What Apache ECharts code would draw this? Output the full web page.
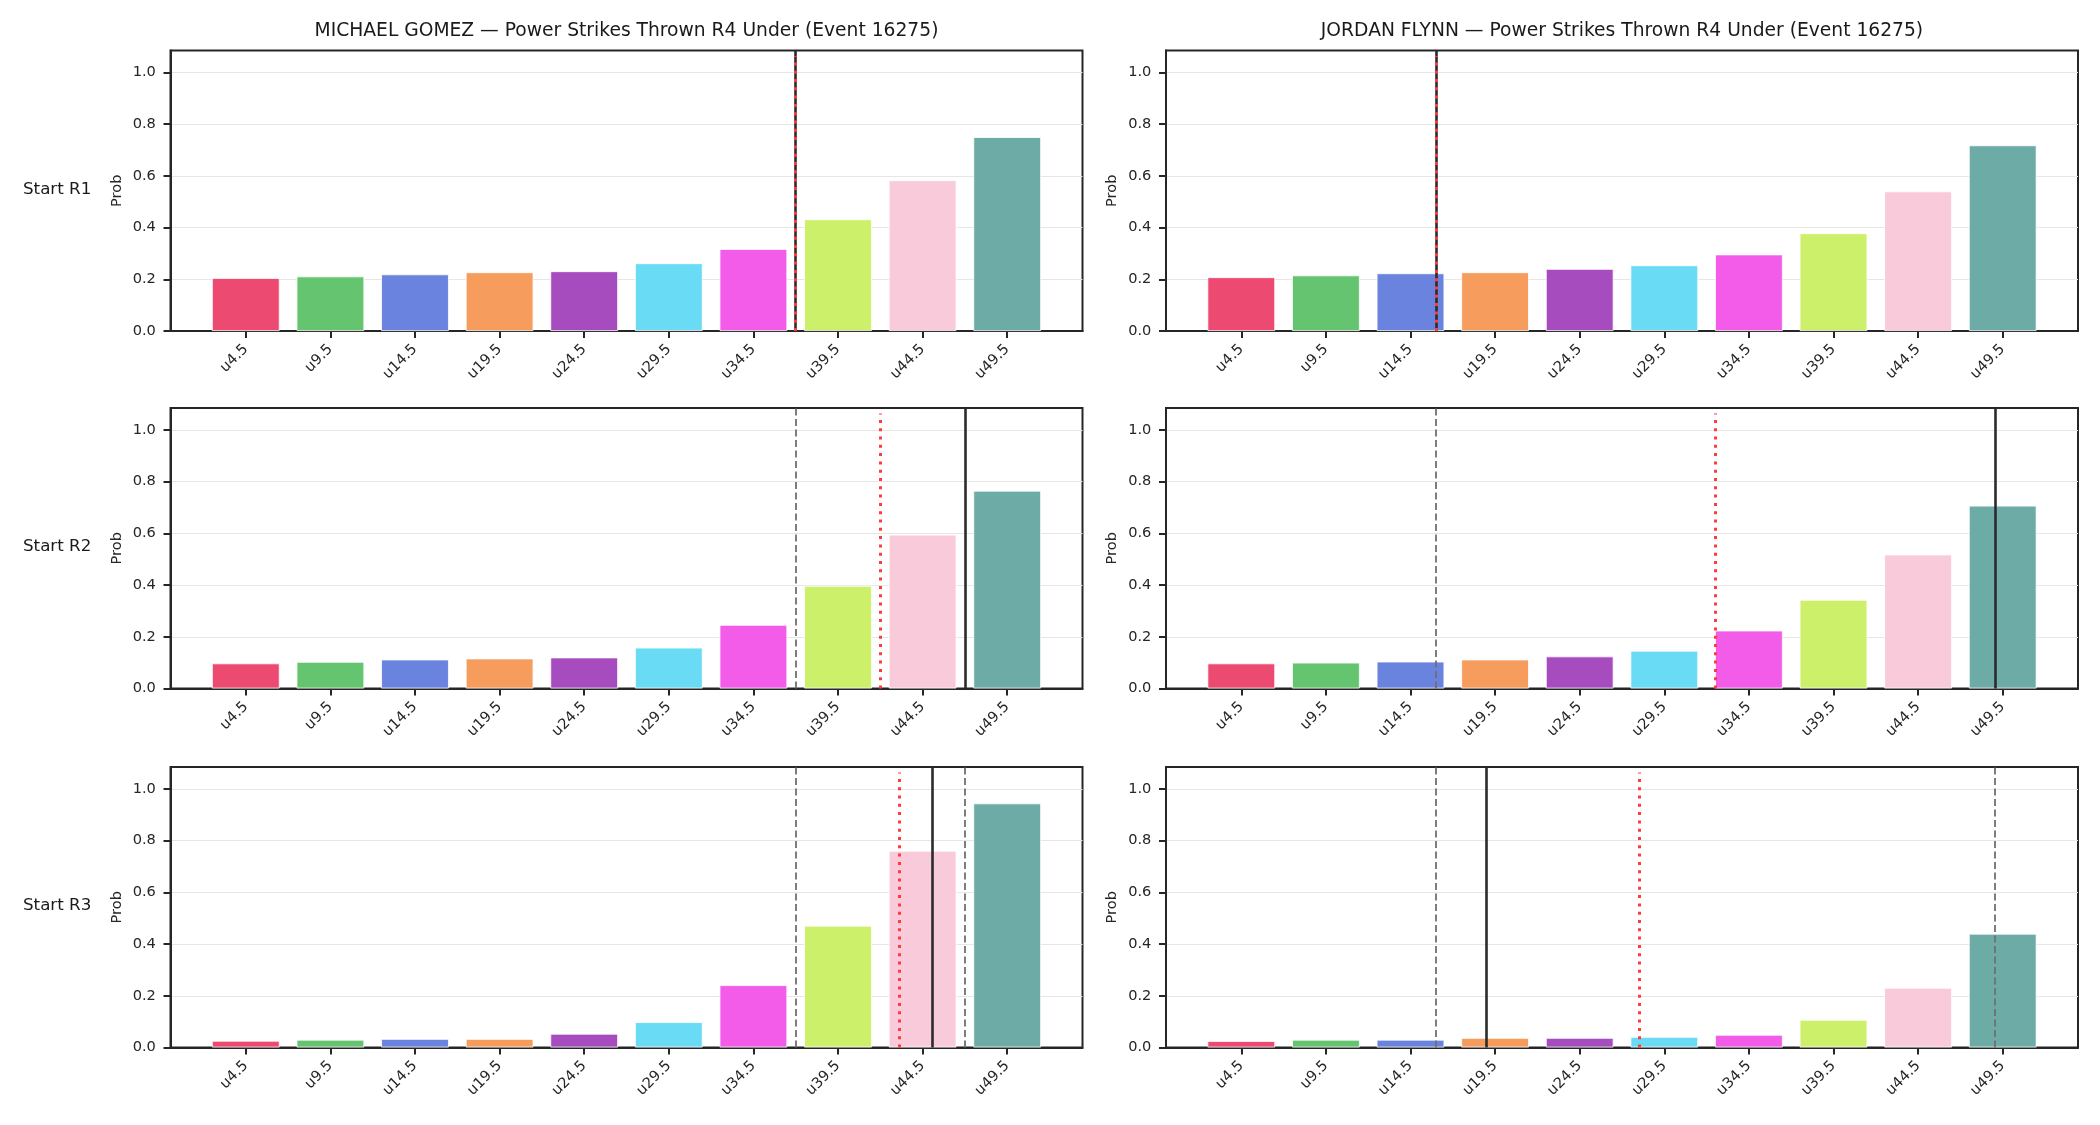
<!DOCTYPE html>
<html>
<head>
<meta charset="utf-8">
<script src="https://cdn.jsdelivr.net/npm/echarts@6/dist/echarts.min.js"></script>
<style>html,body{margin:0;padding:0;background:#fff;}#c{width:2100px;height:1125px;}</style>
</head>
<body>
<div id="c"></div>
<script>
// ---------- data ----------
const categories = ['u4.5','u9.5','u14.5','u19.5','u24.5','u29.5','u34.5','u39.5','u44.5','u49.5'];
const barColors = ['#EC4A70','#65C46F','#6A83DE','#F69C5D','#A64CBF','#69DBF5','#F25CE8','#CDF06A','#F9CAD9','#6DACA6'];
const fighters = ['MICHAEL GOMEZ', 'JORDAN FLYNN'];
const rowLabels = ['Start R1', 'Start R2', 'Start R3'];
const titleSuffix = ' \u2014 Power Strikes Thrown R4 Under (Event 16275)';
const yTicks = [0, 0.2, 0.4, 0.6, 0.8, 1.0];

const gomezR1 = [0.205, 0.211, 0.219, 0.227, 0.231, 0.262, 0.317, 0.432, 0.583, 0.750];
const gomezR2 = [0.097, 0.103, 0.112, 0.116, 0.120, 0.158, 0.246, 0.397, 0.595, 0.765];
const gomezR3 = [0.026, 0.030, 0.033, 0.033, 0.053, 0.098, 0.241, 0.471, 0.761, 0.944];
const flynnR1 = [0.208, 0.215, 0.223, 0.227, 0.240, 0.254, 0.296, 0.378, 0.540, 0.718];
const flynnR2 = [0.097, 0.100, 0.104, 0.112, 0.124, 0.146, 0.224, 0.343, 0.518, 0.707];
const flynnR3 = [0.025, 0.030, 0.030, 0.037, 0.037, 0.041, 0.049, 0.107, 0.231, 0.440];

// marker positions on the category axis (index units), one per start round
const gomezCurrent   = [6.5, 8.5, 8.11];   // solid black
const gomezProjected = [6.5, 7.5, 7.72];   // red dotted
const flynnCurrent   = [2.3, 8.91, 2.905];
const flynnProjected = [2.3, 5.605, 4.705];

// ---------- layout ----------
const FONT = 'DejaVu Sans';
const colLeft = [170.5, 1166];
const rowTop = [50.5, 408, 767];
const plotW = 912, plotH = 280.5;
const xMin = -0.89, xMax = 9.89, yMax = 1.085;
const INK = '#262626';

const panelValues = [[gomezR1, flynnR1], [gomezR2, flynnR2], [gomezR3, flynnR3]];
const currents = [gomezCurrent, flynnCurrent];
const projections = [gomezProjected, flynnProjected];
const catIdx = categories.map((_, i) => i);

const grids = [], xAxes = [], yAxes = [], series = [], graphics = [];

for (let r = 0; r < 3; r++) {
  for (let c = 0; c < 2; c++) {
    const idx = r * 2 + c;
    grids.push({left: colLeft[c], top: rowTop[r], width: plotW, height: plotH,
      show: true, borderColor: INK, borderWidth: 2, backgroundColor: 'rgba(0,0,0,0)'});
    xAxes.push({type: 'value', gridIndex: idx, min: xMin, max: xMax,
      splitLine: {show: false},
      axisLine: {show: true, onZero: false, lineStyle: {color: INK, width: 2}},
      axisTick: {show: true, customValues: catIdx, length: 7, lineStyle: {color: INK, width: 2}},
      axisLabel: {customValues: catIdx, rotate: 45, margin: 16, fontSize: 14.6, fontFamily: FONT, color: INK,
        formatter: v => categories[Math.round(v)]}
    });
    yAxes.push({type: 'value', gridIndex: idx, min: 0, max: yMax, interval: 0.2,
      name: 'Prob', nameLocation: 'middle', nameGap: 46,
      nameTextStyle: {fontSize: 14.6, fontFamily: FONT, color: INK},
      axisLine: {show: true, onZero: false, lineStyle: {color: INK, width: 2}},
      axisTick: {show: true, customValues: yTicks, length: 7, lineStyle: {color: INK, width: 2}},
      axisLabel: {customValues: yTicks, margin: 14.6, fontSize: 14.6, fontFamily: FONT, color: INK,
        formatter: v => v.toFixed(1)},
      splitLine: {show: true, lineStyle: {color: '#e6e6e6', width: 1}}
    });
    const ml = [];
    for (let k = 0; k < r; k++) {
      ml.push({xAxis: currents[c][k], lineStyle: {color: '#707070', type: [7, 3.5], width: 1.8}});
    }
    ml.push({xAxis: currents[c][r], lineStyle: {color: '#2b2b2b', type: 'solid', width: 2.6}});
    ml.push([{coord: [projections[c][r], 0], lineStyle: {color: '#ff3b3b', type: [3, 5.3], width: 3}},
             {coord: [projections[c][r], 0.98 * yMax]}]);
    series.push({type: 'bar', xAxisIndex: idx, yAxisIndex: idx, silent: true,
      barWidth: 0.8 * plotW / (xMax - xMin),
      itemStyle: {borderColor: '#ffffff', borderWidth: 0.8},
      data: panelValues[r][c].map((v, i) => ({value: [i, v], itemStyle: {color: barColors[i]}})),
      markLine: {silent: true, symbol: ['none', 'none'], label: {show: false}, animation: false, data: ml}
    });
  }
  graphics.push({type: 'text', left: 23, top: rowTop[r] + plotH / 2 - 10,
    style: {text: rowLabels[r], fontSize: 16.7, fontFamily: FONT, fill: '#1a1a1a'}});
}
for (let c = 0; c < 2; c++) {
  graphics.push({type: 'text', x: colLeft[c] + plotW / 2, y: 31.5,
    style: {text: fighters[c] + titleSuffix, fontSize: 18.7, fontFamily: FONT, fill: '#1a1a1a',
      textAlign: 'center', textVerticalAlign: 'middle'}});
}

const chart = echarts.init(document.getElementById('c'), null, {renderer: 'canvas'});
chart.setOption({
  animation: false,
  backgroundColor: '#ffffff',
  grid: grids, xAxis: xAxes, yAxis: yAxes, series: series, graphic: graphics
});
</script>
</body>
</html>
